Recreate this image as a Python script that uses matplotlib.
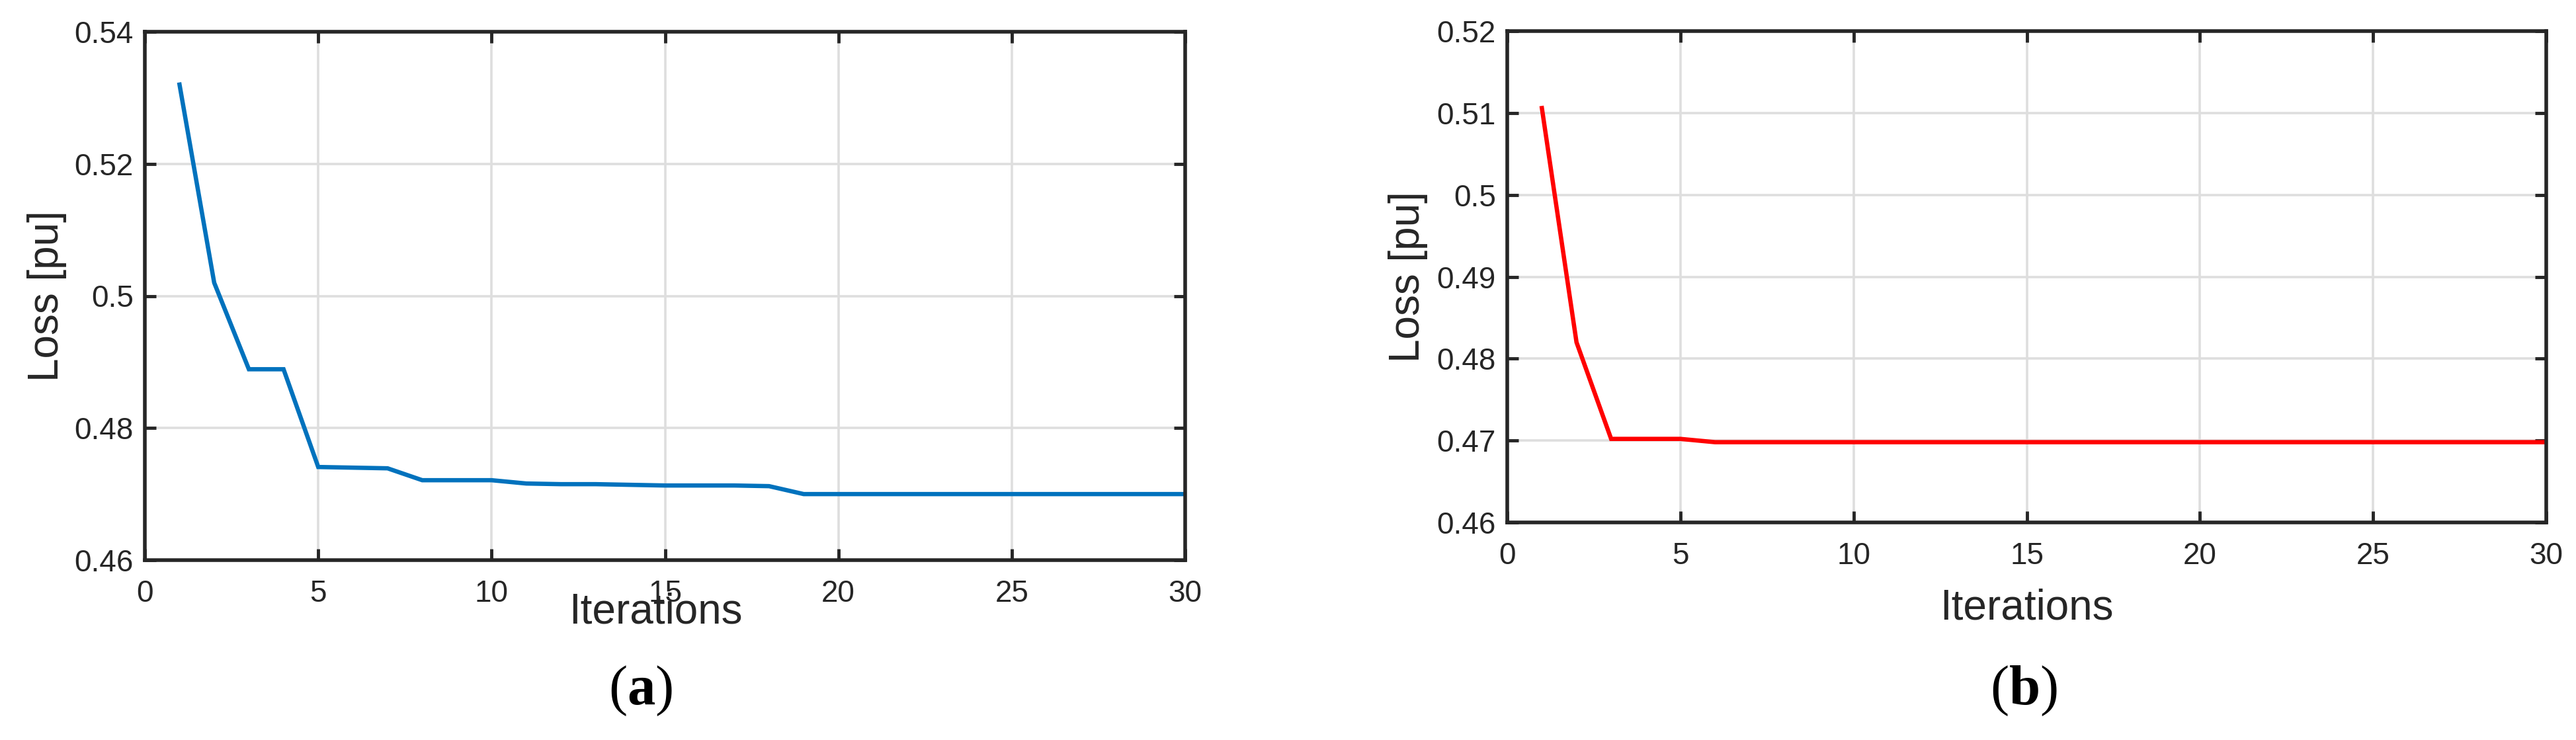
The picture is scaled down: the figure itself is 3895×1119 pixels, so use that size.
import matplotlib
matplotlib.use('Agg')
import matplotlib.pyplot as plt

plt.rcParams['font.family'] = ['Liberation Sans', 'DejaVu Sans']
plt.rcParams['mathtext.fontset'] = 'custom'
plt.rcParams['mathtext.rm'] = 'Liberation Serif'
plt.rcParams['mathtext.bf'] = 'Liberation Serif:bold'

# data
iters = list(range(1, 31))
loss_a = [0.5320, 0.5020, 0.4889, 0.4889, 0.4741, 0.4740, 0.4739, 0.4721, 0.4721, 0.4721,
          0.4716, 0.4715, 0.4715, 0.4714, 0.4713, 0.4713, 0.4713, 0.4712, 0.4700, 0.4700,
          0.4700, 0.4700, 0.4700, 0.4700, 0.4700, 0.4700, 0.4700, 0.4700, 0.4700, 0.4700]
loss_b = [0.5106, 0.4820, 0.4702, 0.4702, 0.4702, 0.4698, 0.4698, 0.4698, 0.4698, 0.4698,
          0.4698, 0.4698, 0.4698, 0.4698, 0.4698, 0.4698, 0.4698, 0.4698, 0.4698, 0.4698,
          0.4698, 0.4698, 0.4698, 0.4698, 0.4698, 0.4698, 0.4698, 0.4698, 0.4698, 0.4698]

xticks = [0, 5, 10, 15, 20, 25, 30]
yticks_a = [0.46, 0.48, 0.5, 0.52, 0.54]
ytick_labels_a = ['0.46', '0.48', '0.5', '0.52', '0.54']
yticks_b = [0.46, 0.47, 0.48, 0.49, 0.5, 0.51, 0.52]
ytick_labels_b = ['0.46', '0.47', '0.48', '0.49', '0.5', '0.51', '0.52']

W, H = 3895, 1119
fig = plt.figure(figsize=(W / 100, H / 100), dpi=100)

def px_axes(x0, x1, ytop, ybot):
    return fig.add_axes([x0 / W, 1 - ybot / H, (x1 - x0) / W, (ybot - ytop) / H])

ax1 = px_axes(219, 1792, 48, 847)
ax2 = px_axes(2279, 3850, 47, 790)

def style(ax, yt, ytl, ylim):
    ax.set_xlim(0, 30)
    ax.set_ylim(*ylim)
    ax.set_xticks(xticks)
    ax.set_yticks(yt)
    ax.set_yticklabels(ytl)
    ax.grid(True, color='#dedede', linewidth=2.6)
    ax.set_axisbelow(True)
    for s in ax.spines.values():
        s.set_color('#262626')
        s.set_linewidth(4)
    ax.tick_params(direction='in', length=12, width=3.5, color='#262626',
                   labelsize=33, labelcolor='#262626', top=True, right=True)
    ax.tick_params(axis='x', pad=21)
    ax.tick_params(axis='y', pad=12.5)

style(ax1, yticks_a, ytick_labels_a, (0.46, 0.54))
style(ax2, yticks_b, ytick_labels_b, (0.46, 0.52))

ax1.plot(iters, loss_a, color='#0072BD', linewidth=4.7, solid_joinstyle='miter')
ax2.plot(iters, loss_b, color='#FF0000', linewidth=4.7, solid_joinstyle='miter')

# axis labels
for ax, xl_x, xl_y, yl_x in [(ax1, 0.4908, -0.1201, -0.094), (ax2, 0.4997, -0.1978, -0.0955)]:
    ax.set_xlabel('Iterations', fontsize=46, color='#262626', va='baseline')
    ax.xaxis.set_label_coords(xl_x, xl_y)
    ax.set_ylabel('Loss [pu]', fontsize=46, color='#262626', va='center')
    ax.yaxis.set_label_coords(yl_x, 0.5)

# subfigure captions
fig.text(969 / W, 1 - 1045 / H, r'($\mathbf{a}$)', fontsize=61,
         family='Liberation Serif', ha='center', va='center')
fig.text(3060 / W, 1 - 1045 / H, r'($\mathbf{b}$)', fontsize=61,
         family='Liberation Serif', ha='center', va='center')

fig.savefig('out.png', dpi=100)
